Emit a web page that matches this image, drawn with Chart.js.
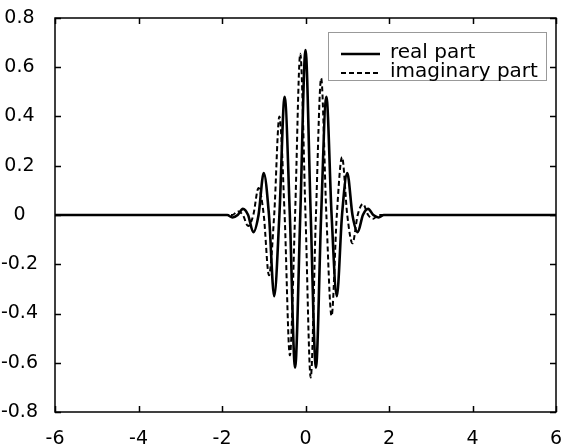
<!DOCTYPE html>
<html>
<head>
<meta charset="utf-8">
<script src="https://cdn.jsdelivr.net/npm/chart.js@4/dist/chart.umd.min.js"></script>
<style>
  html, body { margin: 0; padding: 0; background: #fff; }
</style>
</head>
<body>
<canvas id="grafico" width="563" height="446"></canvas>
<script>
// values (extrema and zero crossings)
const xs = [-6, -2, -1.875, -1.75, -1.625, -1.5, -1.375, -1.25, -1.125, -1, -0.875, -0.75, -0.625, -0.5, -0.375, -0.25, -0.125,
    0, 0.125, 0.25, 0.375, 0.5, 0.625, 0.75, 0.875, 1, 1.125, 1.25, 1.375, 1.5, 1.625, 1.75, 1.875, 2, 6];
const realPart = [0, 0, 0, -0.01, 0, 0.025, 0, -0.07, 0, 0.17, 0, -0.33, 0, 0.48, 0, -0.62, 0,
    0.67, 0, -0.62, 0, 0.48, 0, -0.33, 0, 0.17, 0, -0.07, 0, 0.025, 0, -0.01, 0, 0, 0];
const imagPart = [0, 0, 0, 0, 0.015, 0, -0.045, 0, 0.11, 0, -0.245, 0, 0.4, 0, -0.57, 0, 0.655,
    0, -0.66, 0, 0.555, 0, -0.41, 0, 0.235, 0, -0.115, 0, 0.045, 0, -0.015, 0, 0, 0, 0];

const xTicks = [-6, -4, -2, 0, 2, 4, 6];
const yTicks = [-0.8, -0.6, -0.4, -0.2, 0, 0.2, 0.4, 0.6, 0.8];
const legendLabels = ['real part', 'imaginary part'];

const fonte = 'DejaVu Sans';

function pontos(ys) {
    return xs.map((x, i) => ({ x: x, y: ys[i] }));
}

function fmt(v) {
    if (Math.abs(v) < 1e-9) return '0';
    return String(+v.toFixed(1));
}

// box, inward ticks and legend, MATLAB style
const moldura = {
    id: 'moldura',
    afterDatasetsDraw(chart) {
        const ctx = chart.ctx;
        const a = chart.chartArea;
        const sx = chart.scales.x;
        const sy = chart.scales.y;
        const tl = 6;
        ctx.save();
        ctx.strokeStyle = '#000';
        ctx.lineWidth = 1.5;
        ctx.setLineDash([]);
        ctx.strokeRect(a.left, a.top, a.right - a.left, a.bottom - a.top);
        ctx.beginPath();
        xTicks.forEach(v => {
            const px = Math.round(sx.getPixelForValue(v)) + 0.5;
            ctx.moveTo(px, a.bottom); ctx.lineTo(px, a.bottom - tl);
            ctx.moveTo(px, a.top); ctx.lineTo(px, a.top + tl);
        });
        yTicks.forEach(v => {
            const py = Math.round(sy.getPixelForValue(v)) + 0.5;
            ctx.moveTo(a.left, py); ctx.lineTo(a.left + tl, py);
            ctx.moveTo(a.right, py); ctx.lineTo(a.right - tl, py);
        });
        ctx.stroke();

        // legend
        const lx = 328, ly = 32, lw = 218, lh = 48;
        ctx.fillStyle = '#fff';
        ctx.fillRect(lx, ly, lw, lh);
        ctx.strokeStyle = '#999';
        ctx.lineWidth = 1;
        ctx.strokeRect(lx + 0.5, ly + 0.5, lw, lh);
        const ds = chart.data.datasets;
        const linhas = [54, 73];
        ds.forEach((d, i) => {
            ctx.strokeStyle = d.borderColor;
            ctx.lineWidth = d.borderWidth;
            ctx.setLineDash(d.borderDash || []);
            ctx.beginPath();
            ctx.moveTo(341, linhas[i]);
            ctx.lineTo(380, linhas[i]);
            ctx.stroke();
            ctx.setLineDash([]);
            ctx.fillStyle = '#000';
            ctx.font = '20px "' + fonte + '"';
            ctx.textBaseline = 'alphabetic';
            ctx.textAlign = 'left';
            ctx.fillText(legendLabels[i], 390, linhas[i] + 3.5);
        });
        ctx.restore();
    }
};

const ctxGrafico = document.getElementById('grafico').getContext('2d');
new Chart(ctxGrafico, {
    type: 'line',
    data: {
        datasets: [{
            label: legendLabels[0],
            data: pontos(realPart),
            borderColor: '#000',
            borderWidth: 2.6,
            pointRadius: 0,
            cubicInterpolationMode: 'monotone',
            fill: false,
            order: 1
        }, {
            label: legendLabels[1],
            data: pontos(imagPart),
            borderColor: '#000',
            borderWidth: 2,
            borderDash: [5, 3],
            pointRadius: 0,
            cubicInterpolationMode: 'monotone',
            fill: false,
            order: 0
        }]
    },
    options: {
        responsive: false,
        animation: false,
        devicePixelRatio: 1,
        layout: { padding: { top: 18, right: 7, left: 0, bottom: 0 } },
        plugins: { legend: { display: false }, tooltip: { enabled: false } },
        scales: {
            x: {
                type: 'linear',
                min: -6,
                max: 6,
                grid: { display: false },
                border: { display: false },
                afterBuildTicks: s => { s.ticks = xTicks.map(v => ({ value: v })); },
                afterFit: s => { s.height = 34; s.paddingLeft = 0; s.paddingRight = 0; },
                ticks: {
                    color: '#000',
                    font: { family: fonte, size: 19 },
                    padding: 8,
                    maxRotation: 0,
                    callback: v => fmt(v)
                }
            },
            y: {
                min: -0.8,
                max: 0.8,
                grid: { display: false },
                border: { display: false },
                afterBuildTicks: s => { s.ticks = yTicks.map(v => ({ value: v })); },
                afterFit: s => { s.width = 55; s.paddingTop = 0; s.paddingBottom = 0; },
                ticks: {
                    color: '#000',
                    font: { family: fonte, size: 19 },
                    padding: 9,
                    crossAlign: 'center',
                    callback: v => fmt(v)
                }
            }
        }
    },
    plugins: [moldura]
});
</script>
</body>
</html>
